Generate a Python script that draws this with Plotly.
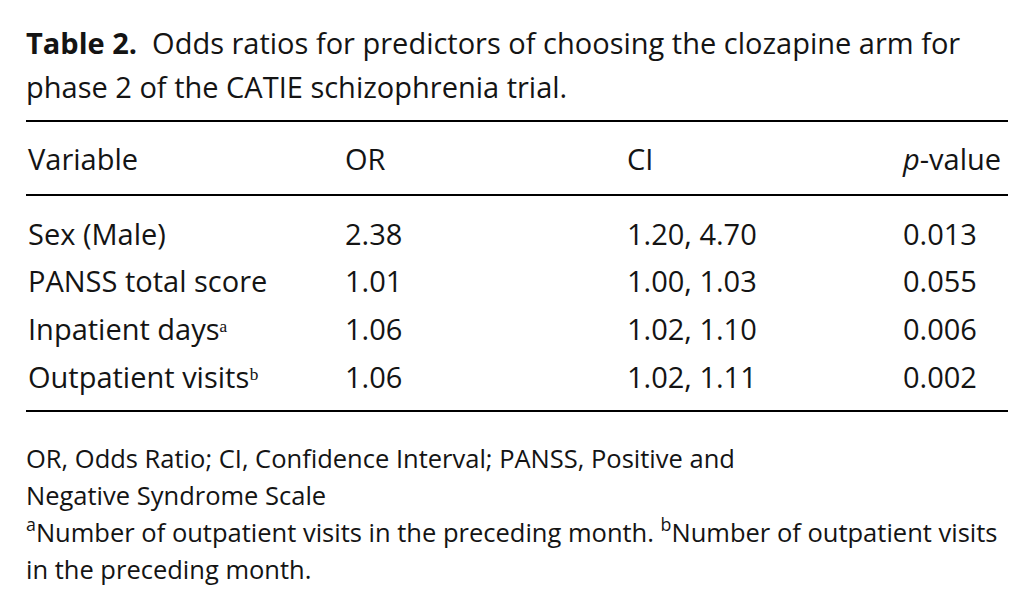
import plotly.graph_objects as go

# Table data
headers = ["Variable", "OR", "CI", "<i>p</i>-value"]
variables = ["Sex (Male)", "PANSS total score", "Inpatient days\u1d43", "Outpatient visits\u1d47"]
odds_ratios = [2.38, 1.01, 1.06, 1.06]
ci_low = [1.20, 1.00, 1.02, 1.02]
ci_high = [4.70, 1.03, 1.10, 1.11]
p_values = [0.013, 0.055, 0.006, 0.002]

title_lines = [
    "<b>Table 2.</b>  Odds ratios for predictors of choosing the clozapine arm for",
    "phase 2 of the CATIE schizophrenia trial.",
]
footnotes = [
    "OR, Odds Ratio; CI, Confidence Interval; PANSS, Positive and",
    "Negative Syndrome Scale",
    "<sup>a</sup>Number of outpatient visits in the preceding month. "
    "<sup>b</sup>Number of outpatient visits",
    "in the preceding month.",
]

W, H = 1034, 612
PAGE = 8  # page margin around the plot div
FONT = "Open Sans"
INK = "#141414"


def px(x):
    return (x - PAGE) / W


def py(y):
    return 1 - (y - PAGE) / H


ci_text = [f"{lo:.2f}, {hi:.2f}" for lo, hi in zip(ci_low, ci_high)]

fig = go.Figure()
fig.add_trace(go.Table(
    domain=dict(x=[px(20), px(1008)], y=[py(440), py(131)]),
    columnwidth=[317, 282, 276, 113],
    header=dict(
        # wrap every header so they all go through the same text path
        values=[f"<span>{h}</span>" for h in headers],
        height=84,
        align="left",
        fill_color="white",
        line_color="rgba(0,0,0,0)",
        font=dict(family=FONT, size=29, color=INK),
    ),
    cells=dict(
        values=[variables, [f"{v:.2f}" for v in odds_ratios], ci_text,
                [f"{p:.3f}" for p in p_values]],
        height=47.7,
        align="left",
        fill_color="white",
        line_color="rgba(0,0,0,0)",
        font=dict(family=FONT, size=29, color=INK),
    ),
))

# horizontal rules of the table
for y in [121, 195, 411]:
    fig.add_shape(type="line", xref="paper", yref="paper",
                  x0=px(26), x1=px(1008), y0=py(y), y1=py(y),
                  line=dict(color="black", width=2))

# caption
for i, line in enumerate(title_lines):
    fig.add_annotation(text=line, xref="paper", yref="paper",
                       x=px(24), y=py(42 + 44 * i), xanchor="left", yanchor="middle",
                       showarrow=False, font=dict(family=FONT, size=29, color=INK))

# notes under the table
for i, line in enumerate(footnotes):
    fig.add_annotation(text=line, xref="paper", yref="paper",
                       x=px(24), y=py(477 + 37 * i), xanchor="left", yanchor="bottom",
                       align="left", showarrow=False,
                       font=dict(family=FONT, size=25.5, color=INK))

fig.update_layout(
    width=W, height=H,
    margin=dict(l=0, r=0, t=0, b=0),
    paper_bgcolor="white",
    plot_bgcolor="white",
)

fig.write_html("out.html")
